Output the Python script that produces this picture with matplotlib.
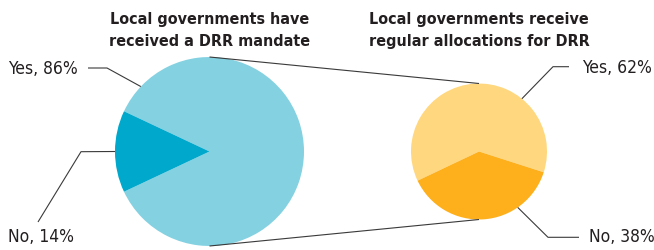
import numpy as np
import matplotlib.pyplot as plt

# Data
left_labels = ['Yes', 'No']
left_values = [86, 14]
right_labels = ['Yes', 'No']
right_values = [62, 38]
left_title = 'Local governments have\nreceived a DRR mandate'
right_title = 'Local governments receive\nregular allocations for DRR'

left_colors = ['#84D1E1', '#00A8CB']
right_colors = ['#FFD77E', '#FDB01C']

W, H = 654, 251

fig = plt.figure(figsize=(W / 100, H / 100), dpi=100)
ax = fig.add_axes([0, 0, 1, 1])

def Y(y):
    return H - y

lc, lr = (209.5, Y(152.5)), 94.5
rc, rr = (479.0, Y(152.5)), 68.0

ax.pie(left_values, colors=left_colors, startangle=205.2, counterclock=True,
       center=lc, radius=lr, wedgeprops=dict(linewidth=0))
ax.pie(right_values, colors=right_colors, startangle=342.2, counterclock=True,
       center=rc, radius=rr, wedgeprops=dict(linewidth=0))

ax.set_xlim(0, W)
ax.set_ylim(0, H)
ax.set_aspect('auto')
ax.axis('off')

line_kw = dict(color='#3a3a3a', lw=0.8, solid_capstyle='butt')

# connectors between the two pies
ax.plot([lc[0], rc[0]], [lc[1] + lr, rc[1] + rr], **line_kw)
ax.plot([lc[0], rc[0]], [lc[1] - lr, rc[1] - rr], **line_kw)

def edge(c, r, ang):
    a = np.deg2rad(ang)
    return c[0] + r * np.cos(a), c[1] + r * np.sin(a)

def leader(c, r, ang, elbow, end):
    p = edge(c, r, ang)
    ax.plot([p[0], elbow[0], end[0]], [p[1], Y(elbow[1]), Y(end[1])], **line_kw)

txt_kw = dict(fontsize=12.5, color='#231f20', family='DejaVu Sans',
              fontstretch='condensed', va='center')

leader(lc, lr, 136.6, (107, 69), (88, 69))
ax.text(8, Y(69), f'{left_labels[0]}, {left_values[0]}%', ha='left', **txt_kw)
leader(lc, lr, 180, (81, 152.7), (38, 223))
ax.text(8, Y(237), f'{left_labels[1]}, {left_values[1]}%', ha='left', **txt_kw)

leader(rc, rr, 50.9, (553, 67.7), (569, 67.7))
ax.text(582, Y(68), f'{right_labels[0]}, {right_values[0]}%', ha='left', **txt_kw)
leader(rc, rr, -55.3, (548, 238.3), (579, 238.3))
ax.text(589, Y(237), f'{right_labels[1]}, {right_values[1]}%', ha='left', **txt_kw)

title_kw = dict(fontsize=11.5, fontweight='bold', color='#231f20', family='DejaVu Sans',
                fontstretch='condensed', ha='center', va='center', linespacing=1.6)
ax.text(209.5, Y(30.5), left_title, **title_kw)
ax.text(479, Y(30.5), right_title, **title_kw)

fig.savefig('out.png', dpi=100)
